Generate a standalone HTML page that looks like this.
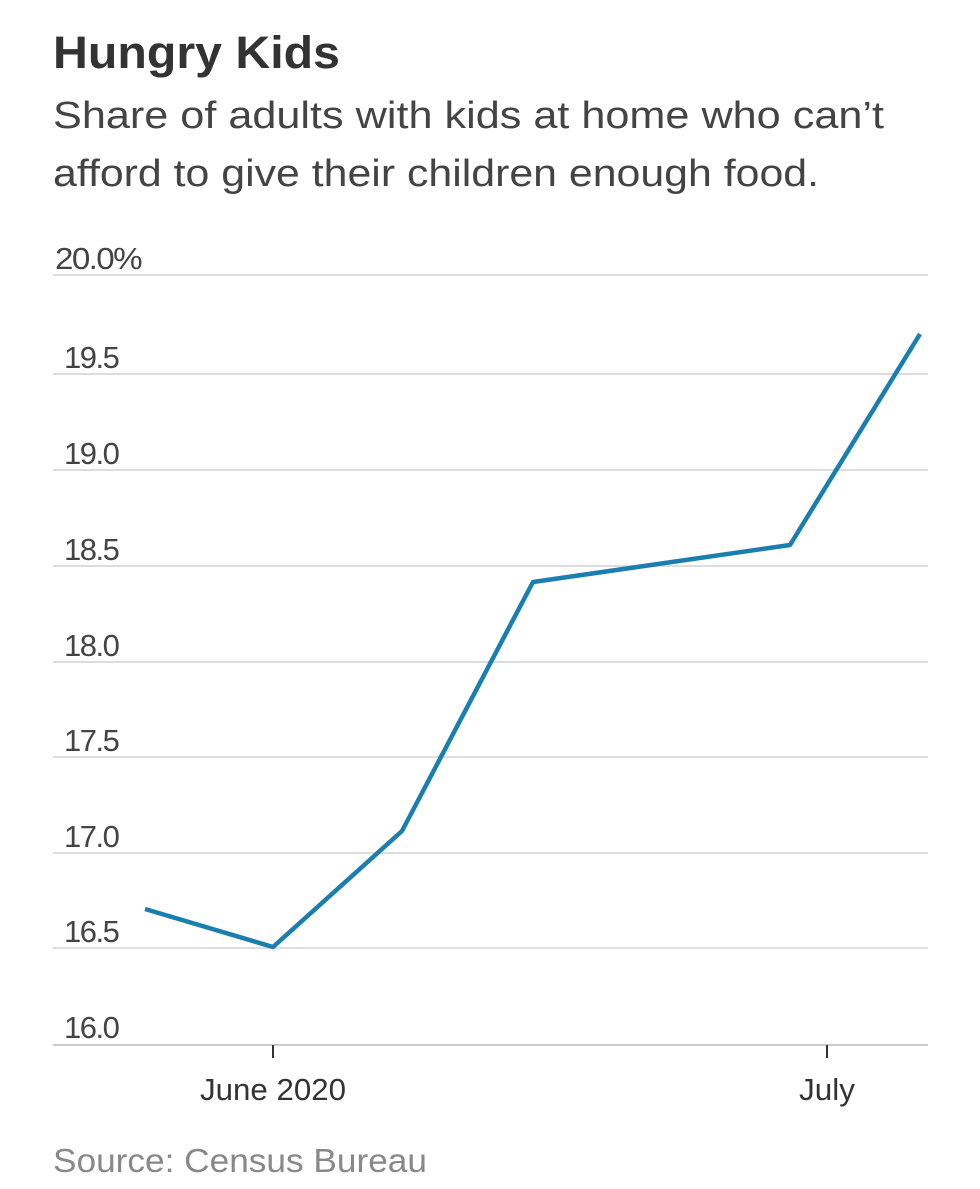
<!DOCTYPE html>
<html><head><meta charset="utf-8"><style>
body{margin:0;background:#fff;}
svg{display:block}
</style></head><body>
<svg width="980" height="1189" xmlns="http://www.w3.org/2000/svg" font-family="Liberation Sans, sans-serif">
<text x="53" y="68" font-size="45" font-weight="bold" fill="#333" textLength="287" lengthAdjust="spacingAndGlyphs">Hungry Kids</text>
<text x="53" y="128" font-size="38" fill="#444" textLength="831" lengthAdjust="spacingAndGlyphs">Share of adults with kids at home who can’t</text>
<text x="53" y="186" font-size="38" fill="#444" textLength="766" lengthAdjust="spacingAndGlyphs">afford to give their children enough food.</text>
<g stroke="#ddd" stroke-width="2">
<line x1="53" x2="928" y1="275" y2="275"/>
<line x1="53" x2="928" y1="374" y2="374"/>
<line x1="53" x2="928" y1="470" y2="470"/>
<line x1="53" x2="928" y1="566" y2="566"/>
<line x1="53" x2="928" y1="662" y2="662"/>
<line x1="53" x2="928" y1="757" y2="757"/>
<line x1="53" x2="928" y1="853" y2="853"/>
<line x1="53" x2="928" y1="948" y2="948"/>
</g>
<line x1="53" x2="928" y1="1045" y2="1045" stroke="#ccc" stroke-width="2"/>
<g font-size="31" fill="#444" letter-spacing="-1.5">
<text x="55" y="269" textLength="86" lengthAdjust="spacingAndGlyphs">20.0%</text>
<text x="64" y="368">19.5</text>
<text x="64" y="464">19.0</text>
<text x="64" y="560">18.5</text>
<text x="64" y="656">18.0</text>
<text x="64" y="751">17.5</text>
<text x="64" y="847">17.0</text>
<text x="64" y="942">16.5</text>
<text x="64" y="1038">16.0</text>
</g>
<g stroke="#333" stroke-width="2">
<line x1="273" x2="273" y1="1045" y2="1058"/>
<line x1="827" x2="827" y1="1045" y2="1058"/>
</g>
<g font-size="31" fill="#333" text-anchor="middle">
<text x="273" y="1100" textLength="146" lengthAdjust="spacingAndGlyphs">June 2020</text>
<text x="827" y="1100" textLength="56" lengthAdjust="spacingAndGlyphs">July</text>
</g>
<polyline points="145,909 273,947 402,831 533,582 790,545 920,334" fill="none" stroke="#1a7fb0" stroke-width="4.5" stroke-linejoin="round"/>
<text x="53" y="1172" font-size="33" fill="#888" textLength="374" lengthAdjust="spacingAndGlyphs">Source: Census Bureau</text>
</svg>
</body></html>
